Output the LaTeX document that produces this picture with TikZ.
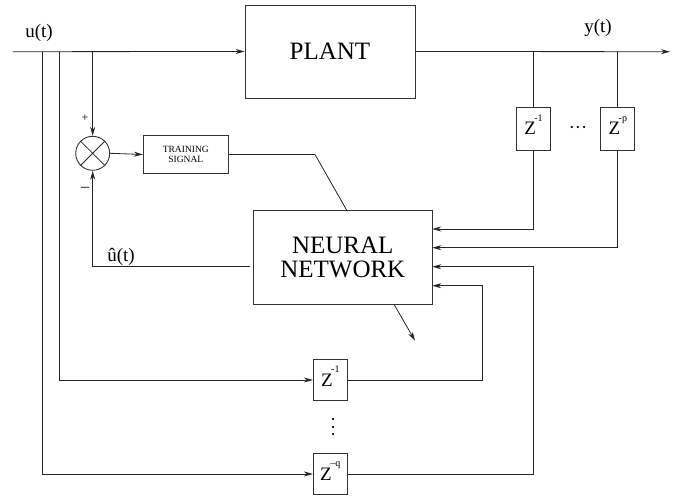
\documentclass[tikz,border=0pt]{standalone}
\usepackage{fontspec}
\setmainfont{Liberation Serif}
\usetikzlibrary{arrows.meta}
\newcommand{\fs}[1]{\fontsize{#1}{#1}\selectfont}
\newcommand{\zbox}[1]{\fs{19}Z\kern-1.5pt\smash{\raisebox{13.5pt}{\fs{10}#1}}}
\begin{document}
\begin{tikzpicture}[x=1pt,y=-1pt,
  line width=0.8pt, draw=black!85,
  arr/.style={-{Stealth[length=9pt,width=5pt]}},
  blk/.style={draw=black!80, line width=0.9pt, rectangle, inner sep=0pt},
  lbl/.style={inner sep=0pt, font=\fs{19}}]
\useasboundingbox (0,0) rectangle (681,498);
% blocks
\node[blk, minimum width=170pt, minimum height=93pt, font=\fs{25}] (plant) at (330,51.5) {PLANT};
\node[blk, minimum width=85pt, minimum height=37.6pt, align=center, font=\fs{9.5}] (tsig) at (185.8,154.5) {TRAINING\\[1pt]SIGNAL};
\node[draw=black!80, line width=0.9pt, circle, minimum size=34pt, inner sep=0pt] (sum) at (92.7,153.3) {};
\draw[line width=0.8pt] (sum.north west) -- (sum.south east) (sum.north east) -- (sum.south west);
\node[blk, minimum width=179pt, minimum height=93.6pt, align=center, font=\fs{25}] (nn) at (342.8,257.5) {NEURAL\\[-1pt]NETWORK};
\node[blk, minimum width=34pt, minimum height=42.7pt] (zp1) at (533.5,128.7) {\zbox{-1}};
\node[blk, minimum width=34pt, minimum height=42.7pt] (zpp) at (617.8,128.7) {\zbox{-p}};
\node[blk, minimum width=34pt, minimum height=41.6pt] (zq1) at (330.3,380) {\zbox{-1}};
\node[blk, minimum width=34pt, minimum height=41.6pt] (zqq) at (330.3,474) {\zbox{–q}};
% labels
\node[lbl] (ulab) at (39,33) {u(t)};
\node[lbl] (ylab) at (598,28) {y(t)};
\node[lbl] (uhat) at (121,257) {û(t)};
\node[inner sep=0pt, font=\fs{12}] (plus) at (85,118) {+};
\node[inner sep=0pt, font=\fs{16}] (minus) at (85,189) {–};
\node[inner sep=0pt, font=\fs{9}] (hdots) at (578,128) {•\kern3pt•\kern3pt•};
\node[inner sep=0pt, font=\fs{9}, align=center] (vdots) at (333.3,428) {•\\[-1.5pt]•\\[-1.5pt]•};
% coordinates
\coordinate (uin) at (12.7,51.7);
\coordinate (b1) at (42.3,51.7);
\coordinate (b2) at (59,51.7);
\coordinate (b3) at (92.7,51.7);
\coordinate (yout) at (670,51.7);
\coordinate (c1) at (533.5,51.7);
\coordinate (c2) at (617.8,51.7);
\coordinate (in1) at (432.3,229);
\coordinate (in2) at (432.3,247.7);
\coordinate (in3) at (432.3,266.7);
\coordinate (in4) at (432.3,285.7);
\coordinate (nnout) at (250,266.7);
\coordinate (fb) at (92.7,266.7);
\coordinate (tk) at (315,154.5);
\coordinate (nntop) at (347,210.7);
\coordinate (r3) at (533.5,474);
\coordinate (r4) at (482.5,380);
\coordinate (o1) at (394,304.3);
\coordinate (o2) at (415,340.7);
% connectors
\draw[arr] (uin) -- (plant.west);
\draw[arr] (b3) -- (sum.north);
\draw[arr] (sum.east) -- (tsig.west);
\draw (tsig.east) -- (tk) -- (nntop);
\draw[arr] (plant.east) -- (yout);
\draw (c1) -- (zp1.north);
\draw (c2) -- (zpp.north);
\draw[arr] (zp1.south) |- (in1);
\draw[arr] (zpp.south) |- (in2);
\draw[arr] (zqq.east) -- (r3) |- (in3);
\draw[arr] (zq1.east) -- (r4) |- (in4);
\draw[arr] (b2) |- (zq1.west);
\draw[arr] (b1) |- (zqq.west);
\draw[arr] (nnout) -- (fb) -- (sum.south);
\draw[arr] (o1) -- (o2);
\end{tikzpicture}
\end{document}
